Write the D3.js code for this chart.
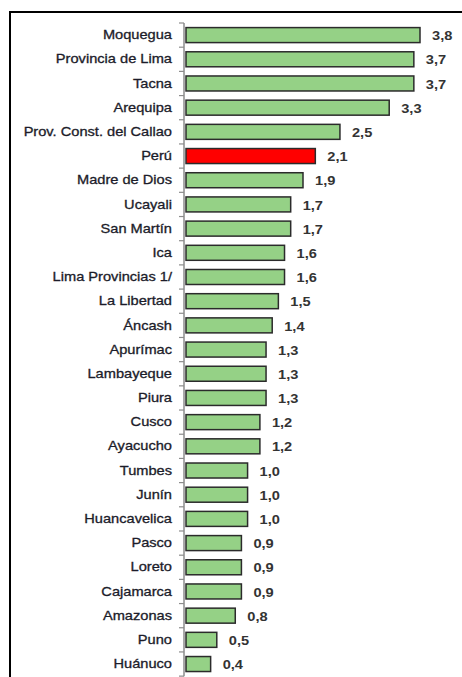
<!DOCTYPE html>
<html>
<head>
<meta charset="utf-8">
<script src="https://cdn.jsdelivr.net/npm/d3@7"></script>
<style>
  html, body { margin: 0; padding: 0; background: #fff; }
  svg { display: block; font-family: Arial, "Liberation Sans", sans-serif; }
</style>
</head>
<body>
<svg id="chart" width="462" height="677"></svg>
<script>
// regiones y valores (%)
const regiones = [
  "Moquegua", "Provincia de Lima", "Tacna", "Arequipa", "Prov. Const. del Callao",
  "Perú", "Madre de Dios", "Ucayali", "San Martín", "Ica", "Lima Provincias 1/",
  "La Libertad", "Áncash", "Apurímac", "Lambayeque", "Piura", "Cusco", "Ayacucho",
  "Tumbes", "Junín", "Huancavelica", "Pasco", "Loreto", "Cajamarca", "Amazonas",
  "Puno", "Huánuco"
];
const valores = [
  3.8, 3.7, 3.7, 3.3, 2.5,
  2.1, 1.9, 1.7, 1.7, 1.6, 1.6,
  1.5, 1.4, 1.3, 1.3, 1.3, 1.2, 1.2,
  1.0, 1.0, 1.0, 0.9, 0.9, 0.9, 0.8,
  0.5, 0.4
];
const destacado = ["Perú"];

const datos = regiones.map((r, i) => ({ region: r, valor: valores[i] }));

const svg = d3.select("#chart");
const stretch = 1.17; // el texto original aparece ensanchado
const fmt = v => d3.format(".1f")(v).replace(".", ",");

const step = 24.19;
const y = d3.scaleBand()
  .domain(regiones)
  .range([23, 23 + regiones.length * step])
  .paddingInner(0.38)
  .paddingOuter(0.19);

const x = d3.scaleLinear()
  .domain([0, 3.8])
  .range([186, 420]);

// marco
svg.append("path")
  .attr("d", "M10,677V12H462")
  .attr("fill", "none")
  .attr("stroke", "#000")
  .attr("stroke-width", 2);

// eje vertical con marcas entre categorias
const y0 = y.range()[0], y1 = y.range()[1];
svg.append("line")
  .attr("x1", x(0) - 2).attr("x2", x(0) - 2)
  .attr("y1", y0).attr("y2", y1)
  .attr("stroke", "#8c8c8c")
  .attr("stroke-width", 1.5);

svg.selectAll(".tick-b")
  .data(d3.range(regiones.length + 1))
  .enter()
  .append("line")
  .attr("class", "tick-b")
  .attr("x1", x(0) - 7).attr("x2", x(0) - 2)
  .attr("y1", i => y0 + i * y.step())
  .attr("y2", i => y0 + i * y.step())
  .attr("stroke", "#8c8c8c")
  .attr("stroke-width", 1.2);

// barras
svg.selectAll(".bar")
  .data(datos)
  .enter()
  .append("rect")
  .attr("class", "bar")
  .attr("x", x(0))
  .attr("y", d => y(d.region))
  .attr("width", d => x(d.valor) - x(0))
  .attr("height", y.bandwidth())
  .attr("fill", d => destacado.includes(d.region) ? "#ff0000" : "#95d186")
  .attr("stroke", "#2b2b2b")
  .attr("stroke-width", 1.5);

// etiquetas de categoria
svg.selectAll(".cat")
  .data(datos)
  .enter()
  .append("text")
  .attr("class", "cat")
  .attr("transform", d => `translate(172,${y(d.region) + y.bandwidth() / 2}) scale(${stretch},1)`)
  .attr("text-anchor", "end")
  .attr("dominant-baseline", "central")
  .style("font-size", "12.5px")
  .style("fill", "#1c1c2a")
  .style("stroke", "#1c1c2a")
  .style("stroke-width", 0.3)
  .text(d => d.region);

// etiquetas de valor
svg.selectAll(".val")
  .data(datos)
  .enter()
  .append("text")
  .attr("class", "val")
  .attr("transform", d => `translate(${x(d.valor) + 12},${y(d.region) + y.bandwidth() / 2 + 1}) scale(${stretch},1)`)
  .attr("text-anchor", "start")
  .attr("dominant-baseline", "central")
  .style("font-size", "12.5px")
  .style("font-weight", "bold")
  .style("fill", "#333")
  .text(d => fmt(d.valor));
</script>
</body>
</html>
